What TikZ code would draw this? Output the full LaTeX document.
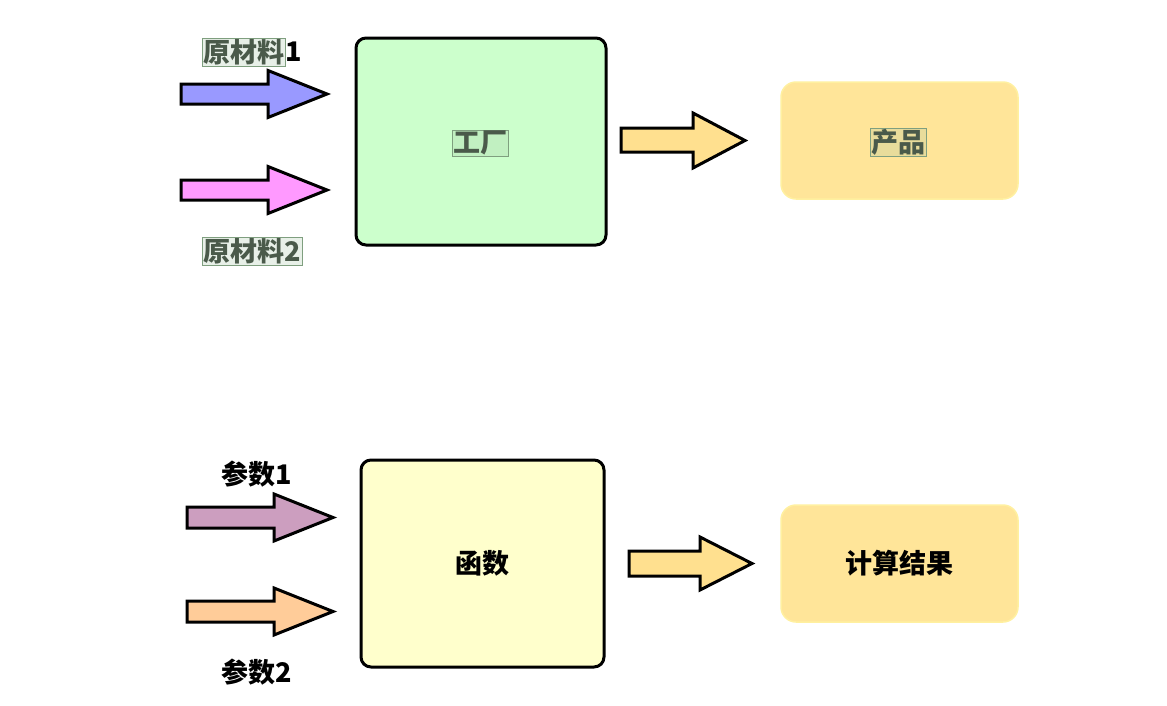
\documentclass[tikz,border=0pt]{standalone}
\usepackage{fontspec}
\setmainfont{Noto Sans CJK SC}
\definecolor{factfill}{HTML}{CCFFCC}
\definecolor{funcfill}{HTML}{FFFFCC}
\definecolor{prodfill}{HTML}{FFE599}
\definecolor{prodline}{HTML}{FFF0A0}
\definecolor{hifill}{HTML}{A4C4A4}
\definecolor{hiline}{HTML}{7F9F7F}
\definecolor{hitext}{HTML}{4A5A4A}
\definecolor{rawblue}{HTML}{9999FF}
\definecolor{rawpink}{HTML}{FF99FF}
\definecolor{argmauve}{HTML}{CC9EBF}
\definecolor{argpeach}{HTML}{FFCC99}
\definecolor{outyellow}{HTML}{FFE08F}

\begin{document}
\begin{tikzpicture}[x=1pt,y=-1pt,
    lbl/.style={font=\bfseries\fontsize{27}{30}\selectfont,inner sep=1pt},
    hilite/.style={lbl,text=hitext,fill=hifill,fill opacity=0.25,text opacity=1,draw=hiline},
    blockbox/.style={lbl,draw=black,line width=3pt,rounded corners=10pt,minimum width=250pt,minimum height=207pt},
    resultbox/.style={lbl,fill=prodfill,draw=prodline,line width=1.5pt,rounded corners=15pt,minimum width=237pt,minimum height=117pt},
    fatarrow/.style={draw=black,line width=3pt,line join=miter}]
\useasboundingbox (0,0) rectangle (1167,705);

% factory
\node[blockbox,fill=factfill] (factory) at (481,141.5) {};
\node[hilite] (factorytxt) at (480,143) {工厂};
\node[resultbox] (product) at (899.5,140.5) {};
\node[hilite] (producttxt) at (898,142) {产品};
\node[hilite] (raw1) at (244,52) {原材料};
\node[lbl,anchor=west,inner sep=0pt] (raw1num) at (raw1.east) {1};
\node[hilite] (raw2) at (252,251) {原材料2};
\foreach \y/\c in {94/rawblue, 190/rawpink} {
    \filldraw[fatarrow,fill=\c] (181,\y-10) -- (268,\y-10) -- (268,\y-23.5) -- (327,\y)
        -- (268,\y+23.5) -- (268,\y+10) -- (181,\y+10) -- cycle;
}
\filldraw[fatarrow,fill=outyellow] (621,128) -- (693,128) -- (693,113) -- (745,140.5)
    -- (693,168) -- (693,152) -- (621,152) -- cycle;

% function
\node[blockbox,fill=funcfill,minimum width=243pt] (func) at (482.5,563.5) {函数};
\node[resultbox] (result) at (899.5,563.5) {计算结果};
\node[lbl] (arg1) at (257,474) {参数1};
\node[lbl] (arg2) at (257,672) {参数2};
\foreach \y/\c in {517.5/argmauve, 611.5/argpeach} {
    \filldraw[fatarrow,fill=\c] (187,\y-10.5) -- (274,\y-10.5) -- (274,\y-23.5) -- (333,\y)
        -- (274,\y+23.5) -- (274,\y+10.5) -- (187,\y+10.5) -- cycle;
}
\filldraw[fatarrow,fill=outyellow] (629,551) -- (700,551) -- (700,537) -- (752,563.5)
    -- (700,590) -- (700,576) -- (629,576) -- cycle;
\end{tikzpicture}
\end{document}
